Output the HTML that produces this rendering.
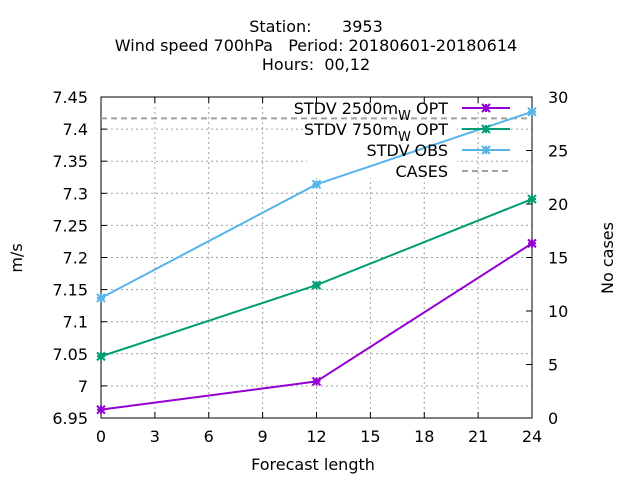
<!DOCTYPE html>
<html><head><meta charset="utf-8"><style>
body{margin:0;background:#fff}
svg text{font-family:"DejaVu Sans","Liberation Sans",sans-serif;font-size:16px;fill:#000;white-space:pre}
</style></head><body>
<svg id="c" width="640" height="480" xmlns="http://www.w3.org/2000/svg" xml:space="preserve">
<text x="316" y="32" text-anchor="middle">Station:      3953</text>
<text x="316" y="51" text-anchor="middle">Wind speed 700hPa   Period: 20180601-20180614</text>
<text x="316" y="70" text-anchor="middle">Hours:  00,12</text>
<g id="grid"></g><g id="axes"></g><g id="series"></g><g id="legend"></g>
<text x="313" y="470" text-anchor="middle">Forecast length</text>
<text transform="translate(22,258) rotate(-90)" text-anchor="middle">m/s</text>
<text transform="translate(613,258) rotate(-90)" text-anchor="middle">No cases</text>
</svg>
<script>
const hours=[0,12,24];
const opt2500=[6.963,7.007,7.222];
const opt750=[7.046,7.157,7.291];
const obs=[7.137,7.314,7.427];
const cases=[28,28,28];
const xTicks=[0,3,6,9,12,15,18,21,24];
const yTicks=[6.95,7,7.05,7.1,7.15,7.2,7.25,7.3,7.35,7.4,7.45];
const yTickLabels=["6.95","7","7.05","7.1","7.15","7.2","7.25","7.3","7.35","7.4","7.45"];
const y2Ticks=[0,5,10,15,20,25,30];
const L=101,R=532,T=97,B=418;
const X=v=>L+(v-0)/24*(R-L);
const Y=v=>B-(v-6.95)/0.5*(B-T);
const Y2=v=>B-v/30*(B-T);
const NS="http://www.w3.org/2000/svg";
function mk(p,tag,a){const e=document.createElementNS(NS,tag);for(const k in a)e.setAttribute(k,a[k]);document.getElementById(p).appendChild(e);return e;}
xTicks.forEach(v=>{if(v>0&&v<24){const e=mk('grid','line',{x1:X(v),x2:X(v),y1:T,y2:B,stroke:'#a0a0a0','stroke-dasharray':'2,3','stroke-width':1});

}});
yTicks.forEach(v=>{if(v>6.95&&v<7.45){const e=mk('grid','line',{x1:L,x2:R,y1:Y(v),y2:Y(v),stroke:'#a0a0a0','stroke-dasharray':'2,3','stroke-width':1});

}});
const bg=mk('grid','rect',{x:307,y:98,width:150,height:80,fill:'#fff'});


const fr=mk('axes','rect',{x:L,y:T,width:R-L,height:B-T,fill:'none',stroke:'#000','stroke-width':1});


xTicks.forEach(v=>{mk('axes','line',{x1:X(v),x2:X(v),y1:B,y2:B-6,stroke:'#000'});mk('axes','line',{x1:X(v),x2:X(v),y1:T,y2:T+6,stroke:'#000'});
const t=mk('axes','text',{x:X(v),y:B+24,'text-anchor':'middle'});t.textContent=v;

});
yTicks.forEach((v,i)=>{mk('axes','line',{x1:L,x2:L+6,y1:Y(v),y2:Y(v),stroke:'#000'});
const t=mk('axes','text',{x:L-13,y:Y(v)+6,'text-anchor':'end'});t.textContent=yTickLabels[i];

});
y2Ticks.forEach(v=>{mk('axes','line',{x1:R-6,x2:R,y1:Y2(v),y2:Y2(v),stroke:'#000'});
const t=mk('axes','text',{x:R+16,y:Y2(v)+6,'text-anchor':'start'});t.textContent=v;

});
const cl=mk('series','polyline',{points:hours.map((h,i)=>X(h)+','+Y2(cases[i])).join(' '),fill:'none',stroke:'#a0a0a0','stroke-width':2,'stroke-dasharray':'6,4'});


function star(g,x,y,c){const s=4;[[s,0],[0,s],[s,s],[s,-s]].forEach(([dx,dy])=>mk(g,'line',{x1:x-dx,y1:y-dy,x2:x+dx,y2:y+dy,stroke:c,'stroke-width':2}));}
function series(arr,c,name){const p=mk('series','polyline',{points:hours.map((h,i)=>X(h)+','+Y(arr[i])).join(' '),fill:'none',stroke:c,'stroke-width':2});


hours.forEach((h,i)=>star('series',X(h),Y(arr[i]),c));}
series(obs,'#56b4e9','stdv-obs-line');
series(opt750,'#009e73','stdv-750m-line');
series(opt2500,'#9400d3','stdv-2500m-line');
const leg=[["STDV 2500m","_w OPT",'#9400d3',true],["STDV 750m","_w OPT",'#009e73',true],["STDV OBS","",'#56b4e9',true],["CASES","",'#a0a0a0',false]];
leg.forEach((e,i)=>{const y=108+i*21;
const t=mk('legend','text',{x:448,y:y+6,'text-anchor':'end'});
if(e[1]){t.innerHTML=e[0]+'<tspan dy="6" font-size="13">W</tspan><tspan dy="-6"> OPT</tspan>';}else t.textContent=e[0];


mk('legend','line',{x1:462,x2:510,y1:y,y2:y,stroke:e[2],'stroke-width':2,'stroke-dasharray':e[3]?'none':'6,4'});
if(e[3])star('legend',486,y,e[2]);});
</script>
</body></html>
